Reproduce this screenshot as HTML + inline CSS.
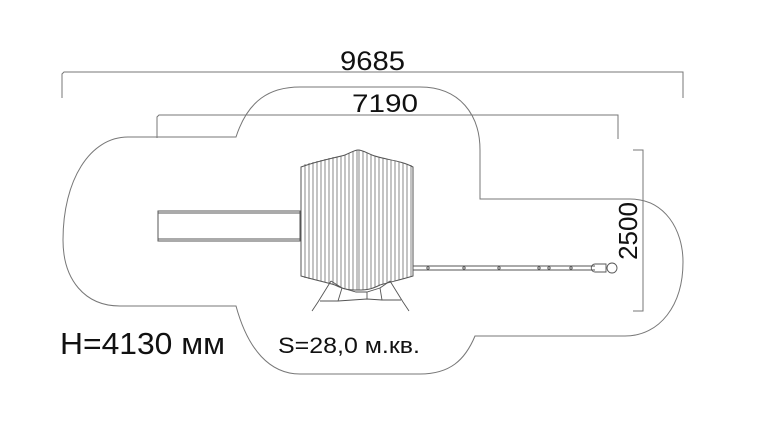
<!DOCTYPE html>
<html><head><meta charset="utf-8"><style>
html,body{margin:0;padding:0;background:#fff;width:768px;height:430px;overflow:hidden}
svg{display:block}
text{font-family:"Liberation Sans","DejaVu Sans",sans-serif;fill:#111}
</style></head><body>
<svg width="768" height="430" viewBox="0 0 768 430" xmlns="http://www.w3.org/2000/svg">
<g fill="none" stroke="#777" stroke-width="1">
<path d="M62,98 V74 L64,72 H683 V98"/>
<path d="M157,138 V117 L159,115 H618 V139"/>
<path d="M633,150 H643 V311 H633"/>
<path d="M236,137 C248,100 270,87 300,87 H420 C460,87 480,115 480,150 V199 H630 C665,199 683,230 683,262 C683,305 660,336 625,336 H475 C465,360 450,374 420,374 H300 C270,374 248,350 236,306 H120 C85,306 63,280 63,240 C63,180 90,137 128,137 Z"/>
</g>
<g fill="none" stroke="#555" stroke-width="1">
<rect x="158" y="211" width="142" height="30"/>
<line x1="158" y1="213" x2="300" y2="213"/>
<line x1="158" y1="239" x2="300" y2="239"/>
<path d="M301,167 C320,160 335,158 345,155 C352,152 355,150 358,150 C362,150 365,152 372,155 C385,160 400,160 413,167 V276 C400,280 390,282 380,285 C370,290 365,290 358,290 C350,290 345,290 335,285 C325,282 315,280 301,276 Z"/>
</g>
<g stroke="#555" stroke-width="0.7">
<line x1="305" y1="164" x2="305" y2="278"/><line x1="309" y1="163" x2="309" y2="279"/><line x1="313" y1="162" x2="313" y2="279"/><line x1="317" y1="161" x2="317" y2="280"/><line x1="321" y1="160" x2="321" y2="281"/><line x1="325" y1="159" x2="325" y2="282"/><line x1="329" y1="158" x2="329" y2="283"/><line x1="333" y1="157" x2="333" y2="284"/><line x1="337" y1="157" x2="337" y2="286"/><line x1="341" y1="156" x2="341" y2="287"/><line x1="345" y1="155" x2="345" y2="289"/><line x1="349" y1="153" x2="349" y2="290"/><line x1="353" y1="151" x2="353" y2="290"/><line x1="357" y1="150" x2="357" y2="290"/><line x1="359" y1="150" x2="359" y2="290"/><line x1="363" y1="151" x2="363" y2="290"/><line x1="367" y1="153" x2="367" y2="289"/><line x1="371" y1="155" x2="371" y2="288"/><line x1="375" y1="156" x2="375" y2="287"/><line x1="379" y1="157" x2="379" y2="286"/><line x1="383" y1="158" x2="383" y2="284"/><line x1="387" y1="159" x2="387" y2="283"/><line x1="391" y1="160" x2="391" y2="282"/><line x1="395" y1="161" x2="395" y2="281"/><line x1="399" y1="162" x2="399" y2="280"/><line x1="403" y1="163" x2="403" y2="279"/><line x1="407" y1="164" x2="407" y2="278"/><line x1="411" y1="165" x2="411" y2="277"/>
</g>
<g fill="none" stroke="#555" stroke-width="0.9">
<path d="M331,281 L318,302 L312,311"/>
<path d="M390,281 L403,302 L409,311"/>
<path d="M331,281 L342,288 L338,301 L320,301"/>
<path d="M390,281 L380,288 L382,300 L401,300"/>
<path d="M342,288 L356,292 L367,292 L380,288"/>
<path d="M338,301 L367,299 L382,300"/>
<path d="M367,292 L367,299"/>
<line x1="413" y1="266" x2="595" y2="266"/>
<line x1="413" y1="270" x2="595" y2="270"/>
<path d="M595,264 H606 V272 H595 C590,272 590,264 595,264 Z"/>
<circle cx="612" cy="268" r="5"/>
<circle cx="428" cy="268" r="1.2"/><circle cx="464" cy="268" r="1.2"/><circle cx="499" cy="268" r="1.2"/><circle cx="539" cy="268" r="1.2"/><circle cx="549" cy="268" r="1.2"/><circle cx="571" cy="268" r="1.2"/>
</g>
<text x="340" y="70" font-size="27" textLength="65" lengthAdjust="spacingAndGlyphs">9685</text>
<text x="352" y="112" font-size="25" textLength="66" lengthAdjust="spacingAndGlyphs">7190</text>
<text transform="translate(637,231) rotate(-90)" font-size="26" text-anchor="middle">2500</text>
<text x="60" y="354" font-size="31" textLength="165" lengthAdjust="spacingAndGlyphs">H=4130 мм</text>
<text x="278" y="353" font-size="22" textLength="142" lengthAdjust="spacingAndGlyphs">S=28,0 м.кв.</text>
</svg>
</body></html>
